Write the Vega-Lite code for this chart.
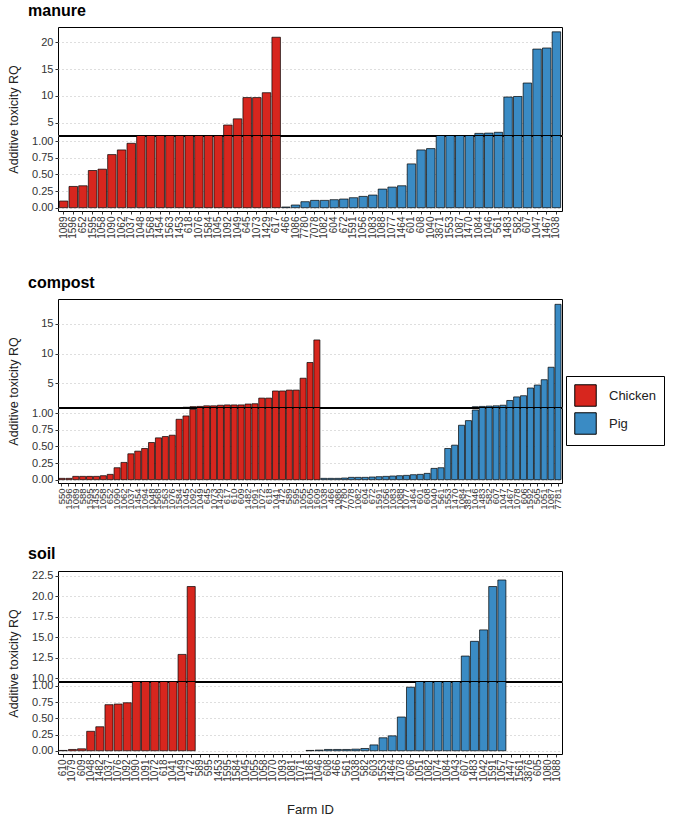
{
  "$schema": "https://vega.github.io/schema/vega-lite/v6.json",
  "description": "Additive toxicity RQ by farm, manure / compost / soil, broken y axis.",
  "padding": {"left": 6, "top": 2, "right": 2, "bottom": 2},
  "datasets": {
    "manure": [
      {"id": "1089", "type": "Chicken", "rq": 0.1},
      {"id": "1596", "type": "Chicken", "rq": 0.32},
      {"id": "652", "type": "Chicken", "rq": 0.33},
      {"id": "1595", "type": "Chicken", "rq": 0.56},
      {"id": "1058", "type": "Chicken", "rq": 0.58},
      {"id": "1090", "type": "Chicken", "rq": 0.8},
      {"id": "1062", "type": "Chicken", "rq": 0.87},
      {"id": "1037", "type": "Chicken", "rq": 0.97},
      {"id": "1048", "type": "Chicken", "rq": 1.2},
      {"id": "1568", "type": "Chicken", "rq": 1.3},
      {"id": "1454", "type": "Chicken", "rq": 1.4},
      {"id": "1563", "type": "Chicken", "rq": 1.5},
      {"id": "1453", "type": "Chicken", "rq": 1.6},
      {"id": "618", "type": "Chicken", "rq": 1.7},
      {"id": "1076", "type": "Chicken", "rq": 1.8},
      {"id": "1584", "type": "Chicken", "rq": 2.0},
      {"id": "1045", "type": "Chicken", "rq": 2.4},
      {"id": "1092", "type": "Chicken", "rq": 4.6},
      {"id": "1049", "type": "Chicken", "rq": 5.75},
      {"id": "645", "type": "Chicken", "rq": 9.7},
      {"id": "1073", "type": "Chicken", "rq": 9.7},
      {"id": "1429", "type": "Chicken", "rq": 10.6},
      {"id": "617", "type": "Chicken", "rq": 20.9},
      {"id": "466", "type": "Pig", "rq": 0.01},
      {"id": "1086", "type": "Pig", "rq": 0.04},
      {"id": "7780", "type": "Pig", "rq": 0.09},
      {"id": "7078", "type": "Pig", "rq": 0.11},
      {"id": "1082", "type": "Pig", "rq": 0.11},
      {"id": "604", "type": "Pig", "rq": 0.12},
      {"id": "672", "type": "Pig", "rq": 0.13},
      {"id": "1591", "type": "Pig", "rq": 0.15},
      {"id": "1056", "type": "Pig", "rq": 0.17},
      {"id": "1083", "type": "Pig", "rq": 0.19},
      {"id": "1088", "type": "Pig", "rq": 0.28},
      {"id": "1077", "type": "Pig", "rq": 0.31},
      {"id": "1464", "type": "Pig", "rq": 0.33},
      {"id": "601", "type": "Pig", "rq": 0.66},
      {"id": "608", "type": "Pig", "rq": 0.87},
      {"id": "1040", "type": "Pig", "rq": 0.89},
      {"id": "3871", "type": "Pig", "rq": 1.3},
      {"id": "1553", "type": "Pig", "rq": 1.6},
      {"id": "1087", "type": "Pig", "rq": 1.9},
      {"id": "1470", "type": "Pig", "rq": 2.2},
      {"id": "1084", "type": "Pig", "rq": 3.05},
      {"id": "1046", "type": "Pig", "rq": 3.1},
      {"id": "561", "type": "Pig", "rq": 3.25},
      {"id": "1483", "type": "Pig", "rq": 9.8},
      {"id": "582", "type": "Pig", "rq": 9.9},
      {"id": "607", "type": "Pig", "rq": 12.4},
      {"id": "1047", "type": "Pig", "rq": 18.7},
      {"id": "1467", "type": "Pig", "rq": 18.9},
      {"id": "1038", "type": "Pig", "rq": 21.9}
    ],
    "compost": [
      {"id": "550", "type": "Chicken", "rq": 0.02},
      {"id": "1596", "type": "Chicken", "rq": 0.02},
      {"id": "1089", "type": "Chicken", "rq": 0.05},
      {"id": "588", "type": "Chicken", "rq": 0.05},
      {"id": "1595", "type": "Chicken", "rq": 0.05},
      {"id": "1453", "type": "Chicken", "rq": 0.05},
      {"id": "1058", "type": "Chicken", "rq": 0.06},
      {"id": "652", "type": "Chicken", "rq": 0.08},
      {"id": "1090", "type": "Chicken", "rq": 0.18},
      {"id": "1062", "type": "Chicken", "rq": 0.26},
      {"id": "1037", "type": "Chicken", "rq": 0.39},
      {"id": "1454", "type": "Chicken", "rq": 0.43},
      {"id": "1094", "type": "Chicken", "rq": 0.47},
      {"id": "1048", "type": "Chicken", "rq": 0.56},
      {"id": "1568", "type": "Chicken", "rq": 0.63},
      {"id": "1563", "type": "Chicken", "rq": 0.65},
      {"id": "1076", "type": "Chicken", "rq": 0.67},
      {"id": "1584", "type": "Chicken", "rq": 0.91},
      {"id": "1045", "type": "Chicken", "rq": 0.96},
      {"id": "1092", "type": "Chicken", "rq": 1.06},
      {"id": "1049", "type": "Chicken", "rq": 1.1},
      {"id": "645", "type": "Chicken", "rq": 1.2},
      {"id": "1073", "type": "Chicken", "rq": 1.2},
      {"id": "1429", "type": "Chicken", "rq": 1.3},
      {"id": "617", "type": "Chicken", "rq": 1.35},
      {"id": "610", "type": "Chicken", "rq": 1.35},
      {"id": "609", "type": "Chicken", "rq": 1.35},
      {"id": "1482", "type": "Chicken", "rq": 1.5},
      {"id": "1091", "type": "Chicken", "rq": 1.55},
      {"id": "1072", "type": "Chicken", "rq": 2.5},
      {"id": "618", "type": "Chicken", "rq": 2.5},
      {"id": "1041", "type": "Chicken", "rq": 3.7},
      {"id": "472", "type": "Chicken", "rq": 3.7},
      {"id": "589", "type": "Chicken", "rq": 3.85},
      {"id": "595", "type": "Chicken", "rq": 3.85},
      {"id": "1055", "type": "Chicken", "rq": 5.85},
      {"id": "1605", "type": "Chicken", "rq": 8.5},
      {"id": "1609", "type": "Chicken", "rq": 12.3},
      {"id": "1038", "type": "Pig", "rq": 0.02},
      {"id": "466", "type": "Pig", "rq": 0.02},
      {"id": "1086", "type": "Pig", "rq": 0.02},
      {"id": "7780", "type": "Pig", "rq": 0.025},
      {"id": "7078", "type": "Pig", "rq": 0.035},
      {"id": "1082", "type": "Pig", "rq": 0.035},
      {"id": "604", "type": "Pig", "rq": 0.035},
      {"id": "672", "type": "Pig", "rq": 0.04},
      {"id": "1591", "type": "Pig", "rq": 0.045},
      {"id": "1056", "type": "Pig", "rq": 0.05},
      {"id": "1083", "type": "Pig", "rq": 0.055},
      {"id": "1088", "type": "Pig", "rq": 0.06},
      {"id": "1077", "type": "Pig", "rq": 0.065},
      {"id": "1464", "type": "Pig", "rq": 0.075},
      {"id": "601", "type": "Pig", "rq": 0.08},
      {"id": "608", "type": "Pig", "rq": 0.095},
      {"id": "1040", "type": "Pig", "rq": 0.17},
      {"id": "561", "type": "Pig", "rq": 0.18},
      {"id": "1553", "type": "Pig", "rq": 0.47},
      {"id": "1470", "type": "Pig", "rq": 0.52},
      {"id": "1084", "type": "Pig", "rq": 0.82},
      {"id": "3871", "type": "Pig", "rq": 0.89},
      {"id": "1046", "type": "Pig", "rq": 1.05},
      {"id": "1483", "type": "Pig", "rq": 1.1},
      {"id": "582", "type": "Pig", "rq": 1.15},
      {"id": "607", "type": "Pig", "rq": 1.2},
      {"id": "1047", "type": "Pig", "rq": 1.3},
      {"id": "1467", "type": "Pig", "rq": 2.1},
      {"id": "1078", "type": "Pig", "rq": 2.7},
      {"id": "606", "type": "Pig", "rq": 2.9},
      {"id": "1592", "type": "Pig", "rq": 4.2},
      {"id": "505", "type": "Pig", "rq": 4.7},
      {"id": "1051", "type": "Pig", "rq": 5.6},
      {"id": "1087", "type": "Pig", "rq": 7.7},
      {"id": "7781", "type": "Pig", "rq": 18.3}
    ],
    "soil": [
      {"id": "610", "type": "Chicken", "rq": 0.005},
      {"id": "1079", "type": "Chicken", "rq": 0.02},
      {"id": "609", "type": "Chicken", "rq": 0.03},
      {"id": "1048", "type": "Chicken", "rq": 0.3},
      {"id": "1482", "type": "Chicken", "rq": 0.37},
      {"id": "1037", "type": "Chicken", "rq": 0.71},
      {"id": "1076", "type": "Chicken", "rq": 0.72},
      {"id": "1092", "type": "Chicken", "rq": 0.74},
      {"id": "1090", "type": "Chicken", "rq": 1.5},
      {"id": "1091", "type": "Chicken", "rq": 2},
      {"id": "1072", "type": "Chicken", "rq": 3},
      {"id": "618", "type": "Chicken", "rq": 4},
      {"id": "1041", "type": "Chicken", "rq": 5},
      {"id": "1049", "type": "Chicken", "rq": 12.9},
      {"id": "472", "type": "Chicken", "rq": 21.2},
      {"id": "589", "type": "Chicken", "rq": null},
      {"id": "595", "type": "Chicken", "rq": null},
      {"id": "1453", "type": "Chicken", "rq": null},
      {"id": "1595", "type": "Chicken", "rq": null},
      {"id": "1584", "type": "Chicken", "rq": null},
      {"id": "1045", "type": "Chicken", "rq": null},
      {"id": "1055", "type": "Chicken", "rq": null},
      {"id": "1058", "type": "Chicken", "rq": null},
      {"id": "1070", "type": "Chicken", "rq": null},
      {"id": "1093", "type": "Chicken", "rq": null},
      {"id": "1081", "type": "Chicken", "rq": null},
      {"id": "1071", "type": "Chicken", "rq": null},
      {"id": "1186", "type": "Pig", "rq": 0.005},
      {"id": "1046", "type": "Pig", "rq": 0.01},
      {"id": "608", "type": "Pig", "rq": 0.02},
      {"id": "466", "type": "Pig", "rq": 0.02},
      {"id": "561", "type": "Pig", "rq": 0.02},
      {"id": "1038", "type": "Pig", "rq": 0.025},
      {"id": "582", "type": "Pig", "rq": 0.035},
      {"id": "603", "type": "Pig", "rq": 0.09},
      {"id": "1553", "type": "Pig", "rq": 0.2},
      {"id": "1464", "type": "Pig", "rq": 0.23},
      {"id": "1078", "type": "Pig", "rq": 0.52},
      {"id": "606", "type": "Pig", "rq": 0.98},
      {"id": "1051", "type": "Pig", "rq": 1.5},
      {"id": "1082", "type": "Pig", "rq": 2},
      {"id": "1074", "type": "Pig", "rq": 3},
      {"id": "1084", "type": "Pig", "rq": 5},
      {"id": "1043", "type": "Pig", "rq": 7},
      {"id": "607", "type": "Pig", "rq": 12.7},
      {"id": "1483", "type": "Pig", "rq": 14.5},
      {"id": "1042", "type": "Pig", "rq": 15.9},
      {"id": "1591", "type": "Pig", "rq": 21.2},
      {"id": "1057", "type": "Pig", "rq": 22.0},
      {"id": "1447", "type": "Pig", "rq": null},
      {"id": "1561", "type": "Pig", "rq": null},
      {"id": "3876", "type": "Pig", "rq": null},
      {"id": "605", "type": "Pig", "rq": null},
      {"id": "1080", "type": "Pig", "rq": null},
      {"id": "1088", "type": "Pig", "rq": null}
    ]
  },
  "spacing": 35,
  "vconcat": [
    {
      "spacing": 1,
      "bounds": "flush",
      "vconcat": [
        {
          "title": {"text": "manure", "anchor": "start", "frame": "group", "dx": -30, "offset": 8},
          "width": 504,
          "height": 108,
          "data": {"name": "manure"},
          "mark": {"type": "bar", "clip": true, "stroke": "black", "strokeWidth": 0.7},
          "encoding": {
            "x": {"field": "id", "type": "nominal", "sort": null, "axis": null, "scale": {"paddingInner": 0.12, "paddingOuter": 0.14}},
            "y": {"field": "rq", "type": "quantitative", "scale": {"domain": [2.75, 22.8], "zero": false, "nice": false}, "axis": {"values": [5, 10, 15, 20], "title": null}},
            "y2": {"datum": 0},
            "color": {"field": "type", "type": "nominal", "scale": {"domain": ["Chicken", "Pig"], "range": ["#D7261E", "#3A8BC4"]}, "legend": {"title": null, "orient": "none", "legendX": 508, "legendY": 349}}
          }
        },
        {
          "width": 504,
          "height": 75,
          "data": {"name": "manure"},
          "mark": {"type": "bar", "clip": true, "stroke": "black", "strokeWidth": 0.7},
          "encoding": {
            "x": {"field": "id", "type": "nominal", "sort": null, "title": null, "scale": {"paddingInner": 0.12, "paddingOuter": 0.14}},
            "y": {"field": "rq", "type": "quantitative", "scale": {"domain": [-0.05, 1.08], "zero": false, "nice": false}, "axis": {"values": [0, 0.25, 0.5, 0.75, 1], "format": ".2f", "title": "Additive toxicity RQ", "titleX": -45, "titleY": -17}},
            "y2": {"datum": 0},
            "color": {"field": "type", "type": "nominal", "scale": {"domain": ["Chicken", "Pig"], "range": ["#D7261E", "#3A8BC4"]}, "legend": {"title": null, "orient": "none", "legendX": 508, "legendY": 349}}
          }
        }
      ]
    },
    {
      "spacing": 1,
      "bounds": "flush",
      "vconcat": [
        {
          "title": {"text": "compost", "anchor": "start", "frame": "group", "dx": -30, "offset": 8},
          "width": 504,
          "height": 108,
          "data": {"name": "compost"},
          "mark": {"type": "bar", "clip": true, "stroke": "black", "strokeWidth": 0.7},
          "encoding": {
            "x": {"field": "id", "type": "nominal", "sort": null, "axis": null, "scale": {"paddingInner": 0.12, "paddingOuter": 0.14}},
            "y": {"field": "rq", "type": "quantitative", "scale": {"domain": [1.0, 19.2], "zero": false, "nice": false}, "axis": {"values": [5, 10, 15], "title": null}},
            "y2": {"datum": 0},
            "color": {"field": "type", "type": "nominal", "scale": {"domain": ["Chicken", "Pig"], "range": ["#D7261E", "#3A8BC4"]}, "legend": {"title": null, "orient": "none", "legendX": 508, "legendY": 349}}
          }
        },
        {
          "width": 504,
          "height": 75,
          "data": {"name": "compost"},
          "mark": {"type": "bar", "clip": true, "stroke": "black", "strokeWidth": 0.7},
          "encoding": {
            "x": {"field": "id", "type": "nominal", "sort": null, "title": null, "scale": {"paddingInner": 0.12, "paddingOuter": 0.14}, "axis": {"labelFontSize": 9.5}},
            "y": {"field": "rq", "type": "quantitative", "scale": {"domain": [-0.05, 1.08], "zero": false, "nice": false}, "axis": {"values": [0, 0.25, 0.5, 0.75, 1], "format": ".2f", "title": "Additive toxicity RQ", "titleX": -45, "titleY": -17}},
            "y2": {"datum": 0},
            "color": {"field": "type", "type": "nominal", "scale": {"domain": ["Chicken", "Pig"], "range": ["#D7261E", "#3A8BC4"]}, "legend": {"title": null, "orient": "none", "legendX": 508, "legendY": 349}}
          }
        }
      ]
    },
    {
      "spacing": 1,
      "bounds": "flush",
      "vconcat": [
        {
          "title": {"text": "soil", "anchor": "start", "frame": "group", "dx": -30, "offset": 8},
          "width": 504,
          "height": 110,
          "data": {"name": "soil"},
          "mark": {"type": "bar", "clip": true, "stroke": "black", "strokeWidth": 0.7},
          "encoding": {
            "x": {"field": "id", "type": "nominal", "axis": null, "scale": {"paddingInner": 0.12, "paddingOuter": 0.14, "domain": ["610", "1079", "609", "1048", "1482", "1037", "1076", "1092", "1090", "1091", "1072", "618", "1041", "1049", "472", "589", "595", "1453", "1595", "1584", "1045", "1055", "1058", "1070", "1093", "1081", "1071", "1186", "1046", "608", "466", "561", "1038", "582", "603", "1553", "1464", "1078", "606", "1051", "1082", "1074", "1084", "1043", "607", "1483", "1042", "1591", "1057", "1447", "1561", "3876", "605", "1080", "1088"]}},
            "y": {"field": "rq", "type": "quantitative", "scale": {"domain": [9.65, 23.1], "zero": false, "nice": false}, "axis": {"values": [10, 12.5, 15, 17.5, 20, 22.5], "format": ".1f", "title": null}},
            "y2": {"datum": 0},
            "color": {"field": "type", "type": "nominal", "scale": {"domain": ["Chicken", "Pig"], "range": ["#D7261E", "#3A8BC4"]}, "legend": {"title": null, "orient": "none", "legendX": 508, "legendY": 349}}
          }
        },
        {
          "width": 504,
          "height": 72,
          "data": {"name": "soil"},
          "mark": {"type": "bar", "clip": true, "stroke": "black", "strokeWidth": 0.7},
          "encoding": {
            "x": {"field": "id", "type": "nominal", "title": "Farm ID", "scale": {"paddingInner": 0.12, "paddingOuter": 0.14, "domain": ["610", "1079", "609", "1048", "1482", "1037", "1076", "1092", "1090", "1091", "1072", "618", "1041", "1049", "472", "589", "595", "1453", "1595", "1584", "1045", "1055", "1058", "1070", "1093", "1081", "1071", "1186", "1046", "608", "466", "561", "1038", "582", "603", "1553", "1464", "1078", "606", "1051", "1082", "1074", "1084", "1043", "607", "1483", "1042", "1591", "1057", "1447", "1561", "3876", "605", "1080", "1088"]}, "axis": {"titlePadding": 22}},
            "y": {"field": "rq", "type": "quantitative", "scale": {"domain": [-0.05, 1.06], "zero": false, "nice": false}, "axis": {"values": [0, 0.25, 0.5, 0.75, 1], "format": ".2f", "title": "Additive toxicity RQ", "titleX": -45, "titleY": -19}},
            "y2": {"datum": 0},
            "color": {"field": "type", "type": "nominal", "scale": {"domain": ["Chicken", "Pig"], "range": ["#D7261E", "#3A8BC4"]}, "legend": {"title": null, "orient": "none", "legendX": 508, "legendY": 349}}
          }
        }
      ]
    }
  ],
  "config": {
    "font": "Liberation Sans",
    "view": {"stroke": "black", "strokeWidth": 1},
    "title": {"fontSize": 16, "fontWeight": "bold", "color": "black"},
    "axis": {
      "domain": false,
      "labelColor": "#333333",
      "labelFontSize": 11,
      "tickColor": "#333333",
      "tickSize": 3,
      "labelPadding": 2,
      "titleFontSize": 12.5,
      "titleFontWeight": "normal",
      "titleColor": "#222222",
      "gridColor": "#BDBDBD",
      "gridDash": [1, 3]
    },
    "axisX": {"grid": false, "labelAngle": -90, "labelFontSize": 10, "labelOverlap": false, "labelPadding": 2, "titlePadding": 12, "titleFontSize": 13},
    "axisY": {"grid": true, "titleAlign": "center", "titleBaseline": "middle"},
    "legend": {
      "symbolType": "square",
      "symbolSize": 460,
      "symbolStrokeColor": "black",
      "symbolStrokeWidth": 1,
      "labelFontSize": 13,
      "labelColor": "#222222",
      "labelOffset": 12,
      "strokeColor": "black",
      "padding": 8,
      "rowPadding": 1
    }
  }
}
